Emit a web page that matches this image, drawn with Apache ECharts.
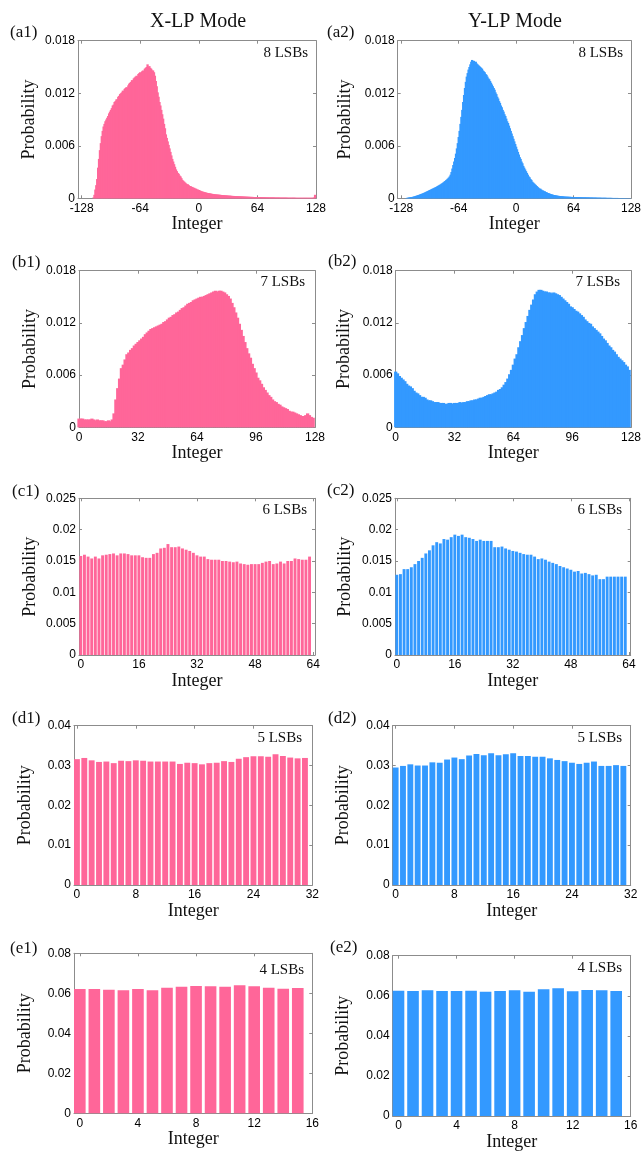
<!DOCTYPE html>
<html><head><meta charset="utf-8">
<script src="https://cdn.jsdelivr.net/npm/echarts@6/dist/echarts.min.js"></script>
<style>html,body{margin:0;padding:0;background:#fff}#c{width:644px;height:1152px}</style>
</head><body><div id="c"></div>
<script>
// ---------------- DATA ----------------
// 8 LSBs, bins -128..127
const a1FirstBin = -128;
const a1Values = [
0,0,0,0,0,0,0,0,0,0,0,0,0,0.0001,0.0004,0.0010,
0.0015,0.0022,0.0035,0.0045,0.0055,0.0063,0.0071,0.0077,0.0082,0.0085,0.0088,0.0090,0.0092,0.0094,0.0097,0.0099,
0.0101,0.0103,0.0106,0.0107,0.0110,0.0111,0.0113,0.0113,0.0116,0.0117,0.0119,0.0120,0.0121,0.0123,0.0122,0.0125,
0.0126,0.0127,0.0126,0.0129,0.0131,0.0132,0.0133,0.0135,0.0134,0.0137,0.0138,0.0139,0.0140,0.0139,0.0142,0.0143,
0.0144,0.0143,0.0145,0.0146,0.0145,0.0148,0.0149,0.0150,0.0153,0.0150,0.0151,0.0149,0.0148,0.0146,0.0146,0.0144,
0.0140,0.0134,0.0128,0.0121,0.0116,0.0110,0.0106,0.0101,0.0096,0.0091,0.0085,0.0080,0.0073,0.0069,0.0065,0.0061,
0.0057,0.0053,0.0049,0.0045,0.0042,0.0039,0.0036,0.0033,0.0031,0.0029,0.0028,0.0026,0.0025,0.0023,0.0021,0.0020,
0.0019,0.0018,0.0017,0.0016,0.0016,0.0015,0.0014,0.0014,0.0013,0.0013,0.0012,0.0012,0.0011,0.0011,0.0010,0.0010,
0.00095,0.0009,0.00085,0.0008,0.00077,0.00074,0.00071,0.00068,0.00065,0.00062,0.0006,0.00058,0.00056,0.00054,0.00052,0.0005,
0.00048,0.00047,0.00045,0.00044,0.00043,0.00042,0.00041,0.0004,0.00039,0.00038,0.00037,0.00036,0.00035,0.00034,0.00033,0.00032,
0.00031,0.0003,0.0003,0.00029,0.00028,0.00027,0.00027,0.00026,0.00025,0.00025,0.00024,0.00023,0.00023,0.00022,0.00022,0.00021,
0.00021,0.0002,0.0002,0.00019,0.00019,0.00018,0.00018,0.00017,0.00017,0.00016,0.00016,0.00016,0.00015,0.00015,0.00015,0.00014,
0.00014,0.00014,0.00013,0.00013,0.00013,0.00012,0.00012,0.00012,0.00012,0.00011,0.00011,0.00011,0.00011,0.0001,0.0001,0.0001,
0.0001,0.0001,0.0001,0.00009,0.00009,0.00009,0.00009,0.00009,0.00009,0.00008,0.00008,0.00008,0.00008,0.00008,0.00008,0.00008,
0.00008,0.00007,0.00007,0.00007,0.00007,0.00007,0.00007,0.00007,0.00007,0.00007,0.00006,0.00006,0.00006,0.00006,0.00006,0.00006,
0.00006,0.00006,0.00006,0.00006,0.00006,0.00006,0.00006,0.00006,0.00006,0.00006,0.00006,0.00006,0.00006,0.00007,0.00009,0.0004
];
const a2FirstBin = -128;
const a2Values = [
0,0,0,0,0,0.00002,0.00004,0.00006,0.00008,0.0001,0.00012,0.00013,0.00015,0.00017,0.0002,0.00023,
0.00026,0.0003,0.00033,0.00037,0.0004,0.00044,0.00048,0.00052,0.00056,0.0006,0.00065,0.0007,0.00075,0.0008,0.00085,0.0009,
0.00095,0.001,0.00105,0.0011,0.00115,0.0012,0.00125,0.0013,0.00136,0.00142,0.00148,0.00154,0.0016,0.00167,0.00174,0.00182,
0.0019,0.00198,0.00207,0.00216,0.00226,0.00237,0.0025,0.0027,0.003,0.0034,0.0038,0.0042,0.0046,0.0051,0.0057,0.0063,
0.0070,0.0077,0.0085,0.0093,0.0101,0.0110,0.0118,0.0126,0.0133,0.0139,0.0143,0.0147,0.0150,0.0153,0.0156,0.0158,
0.0156,0.0157,0.0155,0.0156,0.0154,0.0153,0.0152,0.0151,0.0150,0.0149,0.0148,0.0146,0.0145,0.0144,0.0142,0.0141,
0.0139,0.0137,0.0136,0.0134,0.0132,0.0130,0.0128,0.0126,0.0124,0.0121,0.0119,0.0116,0.0114,0.0111,0.0109,0.0106,
0.0104,0.0101,0.0099,0.0096,0.0094,0.0091,0.0088,0.0086,0.0083,0.0080,0.0077,0.0074,0.0071,0.0068,0.0065,0.0062,
0.0059,0.0056,0.0053,0.0050,0.0047,0.0045,0.0042,0.0040,0.0037,0.0035,0.0033,0.0031,0.0029,0.0027,0.0025,0.0024,
0.0022,0.0021,0.0019,0.0018,0.0017,0.0016,0.0015,0.0014,0.0013,0.0012,0.0011,0.0011,0.0010,0.0009,0.0009,0.0008,
0.0008,0.0007,0.0007,0.0006,0.0006,0.00055,0.0005,0.00047,0.00044,0.00041,0.00038,0.00036,0.00034,0.00032,0.0003,0.00028,
0.00027,0.00025,0.00024,0.00023,0.00022,0.00021,0.0002,0.00019,0.00019,0.00018,0.00018,0.00017,0.00017,0.00016,0.00016,0.00015,
0.00015,0.00014,0.00014,0.00014,0.00013,0.00013,0.00013,0.00012,0.00012,0.00012,0.00011,0.00011,0.00011,0.00011,0.0001,0.0001,
0.0001,0.0001,0.00009,0.00009,0.00009,0.00009,0.00008,0.00008,0.00008,0.00008,0.00007,0.00007,0.00007,0.00007,0.00007,0.00006,
0.00006,0.00006,0.00006,0.00006,0.00006,0.00005,0.00005,0.00005,0.00005,0.00005,0.00005,0.00004,0.00004,0.00004,0.00004,0.00004,
0.00004,0.00004,0.00003,0.00003,0.00003,0.00003,0.00003,0.00003,0.00003,0.00003,0.00003,0.00002,0.00002,0.00002,0.00002,0.00002
];
// 7 LSBs, bins 0..127
const b1Values = [
0.0010,0.0010,0.0010,0.0009,0.0009,0.0009,0.0009,0.0010,0.0009,0.0008,0.0009,0.0008,0.0008,0.0008,0.0007,0.0007,
0.0008,0.0007,0.0009,0.0016,0.0032,0.0045,0.0056,0.0068,0.0072,0.0078,0.0084,0.0086,0.0089,0.0091,0.0094,0.0096,
0.0098,0.0100,0.0102,0.0104,0.0107,0.0109,0.0111,0.0113,0.0114,0.0115,0.0116,0.0117,0.0118,0.0119,0.0121,0.0122,
0.0124,0.0126,0.0127,0.0129,0.0130,0.0132,0.0133,0.0135,0.0137,0.0138,0.0140,0.0142,0.0143,0.0144,0.0146,0.0147,
0.0148,0.0149,0.0150,0.0150,0.0151,0.0152,0.0153,0.0154,0.0155,0.0156,0.0157,0.0156,0.0157,0.0157,0.0156,0.0155,
0.0153,0.0151,0.0148,0.0143,0.0138,0.0132,0.0126,0.0119,0.0112,0.0105,0.0098,0.0091,0.0085,0.0080,0.0073,0.0068,
0.0063,0.0057,0.0054,0.0050,0.0046,0.0043,0.0040,0.0037,0.0035,0.0032,0.0030,0.0029,0.0027,0.0026,0.0024,0.0023,
0.0022,0.0021,0.0019,0.0018,0.0018,0.0017,0.0016,0.0015,0.0014,0.0013,0.0013,0.0014,0.0016,0.0014,0.0012,0.0011
];
const b2Values = [
0.0064,0.0062,0.0059,0.0057,0.0055,0.0053,0.0050,0.0048,0.0047,0.0045,0.0042,0.0040,0.0039,0.0037,0.0035,0.0035,
0.0034,0.0032,0.0031,0.0031,0.0030,0.0029,0.0029,0.0029,0.0028,0.0028,0.0028,0.0027,0.0027,0.0028,0.0028,0.0027,
0.0028,0.0028,0.0028,0.0029,0.0028,0.0029,0.0029,0.0030,0.0030,0.0031,0.0031,0.0032,0.0032,0.0033,0.0034,0.0034,
0.0035,0.0036,0.0037,0.0038,0.0038,0.0039,0.0040,0.0041,0.0043,0.0044,0.0046,0.0049,0.0052,0.0056,0.0061,0.0066,
0.0072,0.0079,0.0084,0.0092,0.0099,0.0106,0.0114,0.0121,0.0128,0.0135,0.0141,0.0147,0.0153,0.0156,0.0158,0.0158,
0.0157,0.0156,0.0156,0.0155,0.0155,0.0154,0.0155,0.0154,0.0153,0.0152,0.0150,0.0148,0.0146,0.0144,0.0142,0.0139,
0.0138,0.0136,0.0134,0.0133,0.0131,0.0129,0.0127,0.0124,0.0122,0.0120,0.0119,0.0116,0.0114,0.0112,0.0110,0.0108,
0.0105,0.0102,0.0100,0.0097,0.0094,0.0092,0.0089,0.0087,0.0084,0.0081,0.0079,0.0077,0.0075,0.0072,0.0070,0.0066
];
// 6 LSBs, bins 0..63
const c1Values = [
0.0158,0.0160,0.0157,0.0154,0.0157,0.0154,0.0159,0.0160,0.0161,0.0162,0.0159,0.0162,0.0162,0.0161,0.0159,0.0159,
0.0159,0.0156,0.0155,0.0155,0.0161,0.0163,0.0170,0.0171,0.0177,0.0172,0.0172,0.0173,0.0170,0.0168,0.0166,0.0163,
0.0159,0.0157,0.0157,0.0153,0.0152,0.0152,0.0152,0.0150,0.0150,0.0149,0.0148,0.0149,0.0146,0.0145,0.0144,0.0145,
0.0145,0.0145,0.0147,0.0149,0.0150,0.0145,0.0146,0.0149,0.0146,0.0150,0.0150,0.0154,0.0153,0.0152,0.0152,0.0157
];
const c2Values = [
0.0128,0.0129,0.0137,0.0137,0.0140,0.0145,0.0150,0.0155,0.0162,0.0167,0.0175,0.0180,0.0178,0.0185,0.0184,0.0188,
0.0192,0.0190,0.0192,0.0188,0.0187,0.0185,0.0182,0.0184,0.0182,0.0182,0.0182,0.0172,0.0172,0.0173,0.0170,0.0168,
0.0166,0.0165,0.0163,0.0161,0.0160,0.0160,0.0157,0.0153,0.0154,0.0152,0.0149,0.0147,0.0145,0.0142,0.0140,0.0138,
0.0136,0.0133,0.0134,0.0130,0.0131,0.0129,0.0127,0.0128,0.0121,0.0121,0.0125,0.0125,0.0125,0.0125,0.0125,0.0125
];
// 5 LSBs, bins 0..31
const d1Values = [
0.0316,0.0319,0.0313,0.0309,0.0310,0.0306,0.0312,0.0311,0.0313,0.0312,0.0310,0.0310,0.0310,0.0310,0.0304,0.0307,
0.0306,0.0303,0.0306,0.0307,0.0311,0.0309,0.0317,0.0321,0.0323,0.0323,0.0322,0.0328,0.0324,0.0320,0.0318,0.0319
];
const d2Values = [
0.0295,0.0299,0.0303,0.0300,0.0300,0.0308,0.0307,0.0315,0.0320,0.0316,0.0325,0.0329,0.0326,0.0331,0.0326,0.0328,
0.0331,0.0324,0.0324,0.0322,0.0322,0.0318,0.0314,0.0311,0.0307,0.0304,0.0307,0.0310,0.0299,0.0299,0.0301,0.0299
];
// 4 LSBs, bins 0..15
const e1Values = [0.0622,0.0622,0.0618,0.0615,0.0622,0.0615,0.0628,0.0633,0.0637,0.0635,0.0633,0.0640,0.0635,0.0628,0.0623,0.0627];
const e2Values = [0.0625,0.0624,0.0627,0.0624,0.0624,0.0625,0.0620,0.0624,0.0627,0.0620,0.0632,0.0637,0.0622,0.0629,0.0627,0.0624];

// tick labels
const xTicksA = [-128, -64, 0, 64, 128];
const xTicksB = [0, 32, 64, 96, 128];
const xTicksC = [0, 16, 32, 48, 64];
const xTicksD = [0, 8, 16, 24, 32];
const xTicksE = [0, 4, 8, 12, 16];
const yTicksAB = [0, 0.006, 0.012, 0.018];
const yTicksC = [0, 0.005, 0.01, 0.015, 0.02, 0.025];
const yTicksD = [0, 0.01, 0.02, 0.03, 0.04];
const yTicksE = [0, 0.02, 0.04, 0.06, 0.08];

const columnTitles = ['X-LP Mode', 'Y-LP Mode'];
const xAxisName = 'Integer';
const yAxisName = 'Probability';

// ---------------- LAYOUT / STYLE ----------------
const PINK = '#ff6699';
const BLUE = '#3399ff';
const SERIF = '"Liberation Serif", "Times New Roman", serif';
const SANS = '"Liberation Sans", Arial, sans-serif';

const panels = [
  {tag:'(a1)', lsb:'8 LSBs', vals:a1Values, first:a1FirstBin, color:PINK, xt:xTicksA, yt:yTicksAB, xr:[-132,128], fill:true,
   g:{l:78, t:40.7, w:238, h:157.6}, tagPos:[10,33], lsbPos:[308,53], yGap:40},
  {tag:'(a2)', lsb:'8 LSBs', vals:a2Values, first:a2FirstBin, color:BLUE, xt:xTicksA, yt:yTicksAB, xr:[-132,128], fill:true,
   g:{l:397.7, t:40.7, w:234, h:157.6}, tagPos:[327,33], lsbPos:[623,53], yGap:43},
  {tag:'(b1)', lsb:'7 LSBs', vals:b1Values, first:0, color:PINK, xt:xTicksB, yt:yTicksAB, xr:[0,128], fill:true,
   g:{l:79, t:270.7, w:236, h:156.6}, tagPos:[12,263], lsbPos:[305,282], yGap:40},
  {tag:'(b2)', lsb:'7 LSBs', vals:b2Values, first:0, color:BLUE, xt:xTicksB, yt:yTicksAB, xr:[0,128], fill:true,
   g:{l:395.7, t:270.7, w:235.3, h:156.6}, tagPos:[328,262], lsbPos:[620,282], yGap:42},
  {tag:'(c1)', lsb:'6 LSBs', vals:c1Values, first:0, color:PINK, xt:xTicksC, yt:yTicksC, xr:[-0.5,64.5], fill:false,
   g:{l:79, t:498.3, w:236, h:156.7}, tagPos:[12,492], lsbPos:[307,510], yGap:40},
  {tag:'(c2)', lsb:'6 LSBs', vals:c2Values, first:0, color:BLUE, xt:xTicksC, yt:yTicksC, xr:[-0.5,64.5], fill:false,
   g:{l:395, t:498.3, w:235.7, h:156.7}, tagPos:[327,491], lsbPos:[622,510], yGap:41},
  {tag:'(d1)', lsb:'5 LSBs', vals:d1Values, first:0, color:PINK, xt:xTicksD, yt:yTicksD, xr:[-0.4,32], fill:false,
   g:{l:74, t:725.7, w:238.3, h:159.3}, tagPos:[12,719], lsbPos:[302,738], yGap:40},
  {tag:'(d2)', lsb:'5 LSBs', vals:d2Values, first:0, color:BLUE, xt:xTicksD, yt:yTicksD, xr:[-0.4,32], fill:false,
   g:{l:392.7, t:725.7, w:238, h:159.3}, tagPos:[328,719], lsbPos:[622,738], yGap:40},
  {tag:'(e1)', lsb:'4 LSBs', vals:e1Values, first:0, color:PINK, xt:xTicksE, yt:yTicksE, xr:[-0.4,16], fill:false,
   g:{l:74, t:953.3, w:238.3, h:160}, tagPos:[10,949], lsbPos:[304,970], yGap:40},
  {tag:'(e2)', lsb:'4 LSBs', vals:e2Values, first:0, color:BLUE, xt:xTicksE, yt:yTicksE, xr:[-0.4,16], fill:false,
   g:{l:392.7, t:955.7, w:238, h:160.3}, tagPos:[330,948], lsbPos:[622,968], yGap:40}
];

const AXIS_COLOR = '#8c8c8c';
const grids = [], xAxes = [], yAxes = [], series = [], graphics = [];

panels.forEach((p, i) => {
  grids.push({left:p.g.l, top:p.g.t, width:p.g.w, height:p.g.h, containLabel:false});
  const tickInside = {show:true, inside:true, length:3, lineStyle:{color:AXIS_COLOR, width:1}};
  xAxes.push({
    type:'value', gridIndex:i, position:'bottom', min:p.xr[0], max:p.xr[1],
    axisLine:{show:true, onZero:false, lineStyle:{color:AXIS_COLOR, width:1}},
    axisTick:Object.assign({customValues:p.xt}, tickInside),
    axisLabel:{customValues:p.xt, margin:4, fontFamily:SANS, fontSize:12, color:'#000', formatter:v => String(v)},
    splitLine:{show:false},
    name:xAxisName, nameLocation:'middle', nameGap:10,
    nameTextStyle:{fontFamily:SERIF, fontSize:18, color:'#111', verticalAlign:'top'}
  });
  xAxes.push({
    type:'value', gridIndex:i, position:'top', min:p.xr[0], max:p.xr[1],
    axisLine:{show:true, onZero:false, lineStyle:{color:AXIS_COLOR, width:1}},
    axisTick:Object.assign({customValues:p.xt}, tickInside),
    axisLabel:{show:false}, splitLine:{show:false}
  });
  const ymax = p.yt[p.yt.length - 1];
  yAxes.push({
    type:'value', gridIndex:i, position:'left', min:0, max:ymax,
    axisLine:{show:true, onZero:false, lineStyle:{color:AXIS_COLOR, width:1}},
    axisTick:Object.assign({customValues:p.yt}, tickInside),
    axisLabel:{customValues:p.yt, margin:3, fontFamily:SANS, fontSize:12, color:'#000', formatter:v => String(v)},
    splitLine:{show:false},
    name:yAxisName, nameLocation:'middle', nameGap:p.yGap, nameRotate:90,
    nameTextStyle:{fontFamily:SERIF, fontSize:18, color:'#111'}
  });
  yAxes.push({
    type:'value', gridIndex:i, position:'right', min:0, max:ymax,
    axisLine:{show:true, onZero:false, lineStyle:{color:AXIS_COLOR, width:1}},
    axisTick:Object.assign({customValues:p.yt}, tickInside),
    axisLabel:{show:false}, splitLine:{show:false}
  });
  const pitch = p.g.w / (p.xr[1] - p.xr[0]);
  series.push({
    type:'bar', xAxisIndex:2*i, yAxisIndex:2*i,
    data:p.vals.map((v, k) => [p.first + k, v]),
    barWidth: p.fill ? pitch + 1.4 : pitch * 0.8,
    itemStyle:{color:p.color, borderWidth:0},
    clip:true, silent:true, animation:false
  });
  graphics.push({type:'text', x:p.tagPos[0], y:p.tagPos[1],
    style:{text:p.tag, font:'17px ' + SERIF, fill:'#111', align:'left', verticalAlign:'middle'}});
  graphics.push({type:'text', x:p.lsbPos[0], y:p.lsbPos[1],
    style:{text:p.lsb, font:'15px ' + SERIF, fill:'#111', align:'right', verticalAlign:'middle'}});
});

graphics.push({type:'text', x:198, y:22, style:{text:columnTitles[0], font:'20px ' + SERIF, fill:'#111', align:'center', verticalAlign:'middle'}});
graphics.push({type:'text', x:515, y:22, style:{text:columnTitles[1], font:'20px ' + SERIF, fill:'#111', align:'center', verticalAlign:'middle'}});

const chart = echarts.init(document.getElementById('c'), null, {renderer:'canvas'});
chart.setOption({
  animation:false,
  backgroundColor:'#fff',
  grid:grids, xAxis:xAxes, yAxis:yAxes, series:series, graphic:graphics
});
</script>
</body></html>
